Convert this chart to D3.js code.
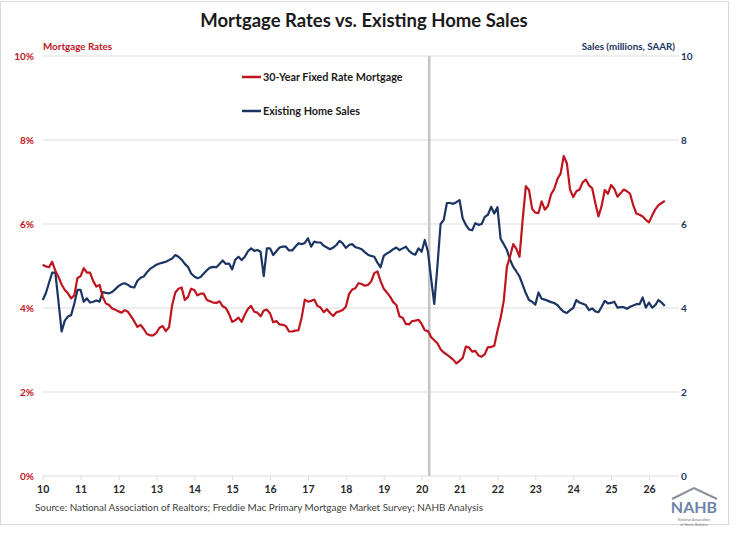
<!DOCTYPE html>
<html>
<head>
<meta charset="utf-8">
<script src="https://cdn.jsdelivr.net/npm/d3@7"></script>
<style>
  body { margin: 0; background: #fff; }
  text { font-family: Lato, "Open Sans", sans-serif; }
</style>
</head>
<body>
<svg id="chart" width="739" height="536"></svg>
<script>
// monthly series, Jan 2010 onward
var startYear = 2010;

var mortgageRates = [
    5.03, 4.99, 4.97, 5.10, 4.89, 4.74, 4.56, 4.43, 4.35, 4.23, 4.30, 4.71,
    4.76, 4.95, 4.84, 4.84, 4.64, 4.51, 4.55, 4.27, 4.11, 4.07, 3.99, 3.96,
    3.92, 3.89, 3.95, 3.91, 3.80, 3.68, 3.55, 3.60, 3.50, 3.38, 3.35, 3.35,
    3.41, 3.53, 3.57, 3.45, 3.54, 4.07, 4.37, 4.46, 4.49, 4.19, 4.26, 4.46,
    4.43, 4.30, 4.34, 4.34, 4.19, 4.16, 4.13, 4.12, 4.16, 4.04, 4.00, 3.86,
    3.67, 3.71, 3.77, 3.67, 3.84, 3.98, 4.05, 3.91, 3.89, 3.80, 3.94, 3.96,
    3.87, 3.66, 3.69, 3.61, 3.60, 3.57, 3.44, 3.44, 3.46, 3.47, 3.77, 4.20,
    4.15, 4.17, 4.20, 4.05, 4.01, 3.90, 3.97, 3.88, 3.81, 3.90, 3.92, 3.95,
    4.03, 4.33, 4.44, 4.47, 4.59, 4.57, 4.53, 4.55, 4.63, 4.83, 4.87, 4.64,
    4.46, 4.37, 4.27, 4.14, 4.07, 3.80, 3.77, 3.62, 3.61, 3.69, 3.70, 3.72,
    3.62, 3.47, 3.45, 3.31, 3.23, 3.16, 3.02, 2.94, 2.89, 2.83, 2.77, 2.68,
    2.74, 2.81, 3.08, 3.06, 2.96, 2.98, 2.87, 2.84, 2.90, 3.07, 3.07, 3.10,
    3.45, 3.76, 4.17, 4.98, 5.23, 5.52, 5.41, 5.22, 6.11, 6.90, 6.81, 6.36,
    6.27, 6.26, 6.54, 6.34, 6.43, 6.71, 6.84, 7.07, 7.20, 7.62, 7.44, 6.82,
    6.64, 6.78, 6.82, 6.99, 7.06, 6.92, 6.85, 6.50, 6.18, 6.43, 6.81, 6.72,
    6.93, 6.84, 6.65, 6.73, 6.82, 6.78, 6.72, 6.45, 6.25, 6.22, 6.18, 6.10,
    6.04, 6.20, 6.35, 6.45, 6.50, 6.55
];

var homeSales = [
    4.19, 4.35, 4.60, 4.84, 4.84, 4.15, 3.44, 3.70, 3.80, 3.83, 4.10, 4.43,
    4.43, 4.15, 4.23, 4.13, 4.15, 4.18, 4.15, 4.38, 4.36, 4.35, 4.38, 4.45,
    4.52, 4.57, 4.59, 4.55, 4.50, 4.49, 4.65, 4.72, 4.75, 4.85, 4.93, 4.98,
    5.03, 5.06, 5.08, 5.10, 5.14, 5.18, 5.26, 5.22, 5.15, 5.05, 4.98, 4.82,
    4.75, 4.71, 4.74, 4.82, 4.90, 4.96, 4.98, 4.97, 5.05, 5.13, 5.05, 5.06,
    4.92, 5.15, 5.22, 5.14, 5.22, 5.35, 5.42, 5.36, 5.38, 5.34, 4.76, 5.42,
    5.42, 5.26, 5.35, 5.44, 5.46, 5.46, 5.37, 5.37, 5.46, 5.54, 5.52, 5.55,
    5.66, 5.46, 5.58, 5.56, 5.56, 5.48, 5.44, 5.40, 5.44, 5.50, 5.60, 5.54,
    5.43, 5.50, 5.52, 5.45, 5.43, 5.40, 5.33, 5.27, 5.24, 5.22, 5.08, 4.97,
    5.24, 5.30, 5.34, 5.40, 5.44, 5.38, 5.42, 5.46, 5.36, 5.30, 5.27, 5.42,
    5.34, 5.62, 5.34, 4.70, 4.10, 5.00, 6.00, 6.10, 6.50, 6.50, 6.48, 6.52,
    6.57, 6.13, 5.98, 5.87, 5.85, 6.02, 5.98, 6.00, 6.17, 6.22, 6.41, 6.25,
    6.40, 5.65, 5.52, 5.38, 5.15, 4.98, 4.87, 4.75, 4.55, 4.35, 4.19, 4.15,
    4.08, 4.37, 4.22, 4.20, 4.17, 4.14, 4.12, 4.07, 3.98, 3.91, 3.88, 3.95,
    4.00, 4.19, 4.13, 4.10, 4.07, 3.95, 3.99, 3.92, 3.90, 4.03, 4.17, 4.11,
    4.12, 4.15, 4.01, 4.02, 4.02, 3.98, 4.03, 4.06, 4.09, 4.09, 4.25, 4.01,
    4.13, 4.01, 4.07, 4.19, 4.13, 4.05
];

var yearLabels = ["10", "11", "12", "13", "14", "15", "16", "17", "18",
                  "19", "20", "21", "22", "23", "24", "25", "26"];
var rateTicks = [0, 2, 4, 6, 8, 10];
var salesTicks = [0, 2, 4, 6, 8, 10];
var markerYear = 2020.2;   // COVID-19 onset

var colors = { rate: "#c0141e", sales: "#1b3563", grid: "#dcdcdc", marker: "#c4c4c4" };

var svg = d3.select("#chart");

var x = d3.scaleLinear().domain([0, 201.5]).range([42.7, 679]);
var yRate = d3.scaleLinear().domain([0, 10]).range([476, 56]);
var ySales = d3.scaleLinear().domain([0, 10]).range([476, 56]);

// frame
svg.append("rect")
    .attr("x", 0.5).attr("y", 1.5)
    .attr("width", 728).attr("height", 523)
    .attr("fill", "none")
    .attr("stroke", "#d9d9d9");

svg.append("text")
    .attr("x", 364).attr("y", 27)
    .attr("text-anchor", "middle")
    .attr("font-size", 18.5)
    .attr("font-weight", "bold")
    .attr("fill", "#1a1a1a")
    .text("Mortgage Rates vs. Existing Home Sales");

// gridlines
svg.append("g").selectAll("line")
    .data(rateTicks)
  .enter()
    .append("line")
    .attr("x1", x(0)).attr("x2", x(201.5))
    .attr("y1", function(d) { return yRate(d); })
    .attr("y2", function(d) { return yRate(d); })
    .attr("stroke", colors.grid);

// x axis
var xAxis = d3.axisBottom(x)
    .tickValues(d3.range(yearLabels.length).map(function(i) { return i * 12; }))
    .tickFormat(function(d, i) { return yearLabels[i]; })
    .tickSize(4)
    .tickPadding(6);

var gx = svg.append("g")
    .attr("transform", "translate(0," + yRate(0) + ")")
    .call(xAxis);
gx.select(".domain").remove();
gx.selectAll(".tick line").attr("stroke", colors.grid);
gx.selectAll(".tick text")
    .attr("font-family", "Lato, sans-serif")
    .attr("font-size", 10.5)
    .attr("font-weight", "bold")
    .attr("fill", "#262626");

// left axis
var gl = svg.append("g")
    .attr("transform", "translate(34,0)")
    .call(d3.axisLeft(yRate).tickValues(rateTicks).tickSize(0).tickPadding(0)
        .tickFormat(function(d) { return d + "%"; }));
gl.select(".domain").remove();
gl.selectAll(".tick text")
    .attr("font-family", "Lato, sans-serif")
    .attr("font-size", 10)
    .attr("font-weight", "bold")
    .attr("fill", colors.rate);

// right axis
var gr = svg.append("g")
    .attr("transform", "translate(681,0)")
    .call(d3.axisRight(ySales).tickValues(salesTicks).tickSize(0).tickPadding(0));
gr.select(".domain").remove();
gr.selectAll(".tick text")
    .attr("font-family", "Lato, sans-serif")
    .attr("font-size", 10)
    .attr("font-weight", "bold")
    .attr("fill", colors.sales);

svg.append("text")
    .attr("x", 43).attr("y", 50)
    .attr("font-size", 9.8).attr("font-weight", "bold")
    .attr("fill", colors.rate)
    .text("Mortgage Rates");

svg.append("text")
    .attr("x", 675).attr("y", 50)
    .attr("text-anchor", "end")
    .attr("font-size", 9.8).attr("font-weight", "bold")
    .attr("fill", colors.sales)
    .text("Sales (millions, SAAR)");

// covid marker
var mx = x((markerYear - startYear) * 12);
svg.append("line")
    .attr("x1", mx).attr("x2", mx)
    .attr("y1", yRate(10)).attr("y2", yRate(0))
    .attr("stroke", colors.marker)
    .attr("stroke-width", 2.5);

var rateLine = d3.line()
    .x(function(d, i) { return x(i); })
    .y(function(d) { return yRate(d); });
var salesLine = d3.line()
    .x(function(d, i) { return x(i); })
    .y(function(d) { return ySales(d); });

svg.append("path")
    .datum(homeSales)
    .attr("d", salesLine)
    .attr("fill", "none")
    .attr("stroke", colors.sales)
    .attr("stroke-width", 2.2)
    .attr("stroke-linejoin", "round");

svg.append("path")
    .datum(mortgageRates)
    .attr("d", rateLine)
    .attr("fill", "none")
    .attr("stroke", colors.rate)
    .attr("stroke-width", 2.2)
    .attr("stroke-linejoin", "round");

// legend
var legendItems = [
    { label: "30-Year Fixed Rate Mortgage", color: colors.rate, y: 77 },
    { label: "Existing Home Sales", color: colors.sales, y: 111 }
];
var legend = svg.append("g").selectAll("g")
    .data(legendItems)
  .enter()
    .append("g")
    .attr("transform", function(d) { return "translate(242," + d.y + ")"; });
legend.append("line")
    .attr("x1", 0).attr("x2", 19)
    .attr("stroke", function(d) { return d.color; })
    .attr("stroke-width", 2.5);
legend.append("text")
    .attr("x", 21).attr("y", 4)
    .attr("font-size", 10.8).attr("font-weight", "bold")
    .attr("fill", "#1a1a1a")
    .text(function(d) { return d.label; });

svg.append("text")
    .attr("x", 35).attr("y", 511)
    .attr("font-size", 9.9)
    .attr("fill", "#404040")
    .text("Source: National Association of Realtors; Freddie Mac Primary Mortgage Market Survey; NAHB Analysis");

// NAHB logo
var logo = svg.append("g").attr("transform", "translate(670,487)");
logo.append("path")
    .attr("d", "M2,12 L24,1 L47,12")
    .attr("fill", "none")
    .attr("stroke", "#8a8f99")
    .attr("stroke-width", 2);
logo.append("text")
    .attr("x", 24).attr("y", 26)
    .attr("text-anchor", "middle")
    .attr("font-family", "'Liberation Sans Narrow', sans-serif")
    .attr("font-size", 16).attr("font-weight", "bold")
    .attr("fill", "#7083a8")
    .text("NAHB");
logo.append("text")
    .attr("x", 24).attr("y", 33.5)
    .attr("text-anchor", "middle")
    .attr("font-size", 3.6)
    .attr("fill", "#777")
    .text("National Association");
logo.append("text")
    .attr("x", 24).attr("y", 38.5)
    .attr("text-anchor", "middle")
    .attr("font-size", 3.6)
    .attr("fill", "#777")
    .text("of Home Builders");
</script>
</body>
</html>
